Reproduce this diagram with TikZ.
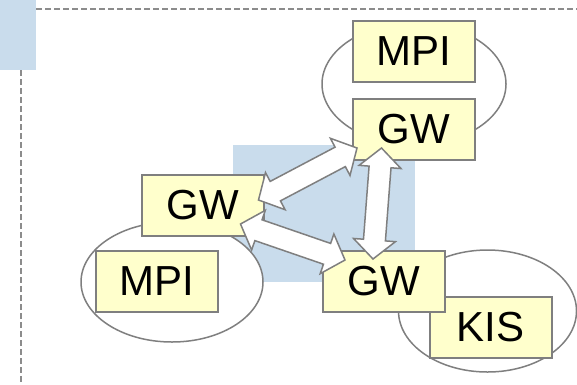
\documentclass[tikz,border=0pt]{standalone}
\usepackage{fontspec}
\setmainfont{Liberation Sans}
\usetikzlibrary{shapes.geometric,positioning,calc}

\definecolor{boxfill}{HTML}{FFFFCC}
\definecolor{edgegray}{HTML}{7F7F7F}
\definecolor{paneblue}{HTML}{C9DCEC}
\definecolor{dashgray}{HTML}{8C8C8C}

% double block arrow between two named points
\newcommand{\gwlink}[2]{%
  \filldraw[link] let \p1=($(#2)-(#1)$), \n1={atan2(\y1,\x1)} in
    (#1) -- ($(#1)+(\n1:19pt)+(\n1+90:21pt)$) -- ($(#1)+(\n1:19pt)+(\n1+90:11pt)$)
    -- ($(#2)+(\n1:-19pt)+(\n1+90:11pt)$) -- ($(#2)+(\n1:-19pt)+(\n1+90:21pt)$) -- (#2)
    -- ($(#2)+(\n1:-19pt)+(\n1-90:21pt)$) -- ($(#2)+(\n1:-19pt)+(\n1-90:11pt)$)
    -- ($(#1)+(\n1:19pt)+(\n1-90:11pt)$) -- ($(#1)+(\n1:19pt)+(\n1-90:21pt)$) -- cycle;}

\begin{document}
\begin{tikzpicture}
  [
    x=1pt, y=-1pt,
    sysbox/.style={draw=edgegray, fill=boxfill, line width=2pt, minimum width=122pt, minimum height=61pt, inner sep=0pt, font=\fontsize{42}{50}\selectfont},
    site/.style={draw=edgegray, fill=white, ellipse, line width=1.5pt, inner sep=0pt},
    pane/.style={fill=paneblue, draw=none},
    rule/.style={draw=dashgray, line width=1.5pt, dash pattern=on 6pt off 3pt},
    link/.style={draw=edgegray, fill=white, line width=1.5pt, line join=miter}
  ]
  \useasboundingbox (0,0) rectangle (577,384);

  % background panes and frame lines
  \fill[pane] (0,0) rectangle (36,70);
  \fill[pane] (233,145) rectangle (415,282);
  \draw[rule] (36,9) -- (577,9);
  \draw[rule] (21,70) -- (21,384);

  % sites
  \node (sitetop) [site, minimum width=184pt, minimum height=122pt] at (414,84) {};
  \node (siteleft) [site, minimum width=182pt, minimum height=120pt] at (172,282) {};
  \node (sitebot) [site, minimum width=178pt, minimum height=122pt] at (487.5,311) {};

  % systems
  \node (gwtop) [sysbox] at (414,129.5) {GW};
  \node (mpitop) [sysbox, above=15pt of gwtop] {MPI};
  \node (gwleft) [sysbox] at (202.5,205.5) {GW};
  \node (mpileft) [sysbox] at (157,281) {MPI};
  \node (kis) [sysbox] at (490.5,327) {KIS};
  \node (gwbot) [sysbox] at (384,281.5) {GW};

  % links between gateways
  \coordinate (a1) at ([shift={(5,-13)}]gwtop.south west);
  \coordinate (a2) at ([shift={(-6,-5.5)}]gwleft.east);
  \coordinate (b1) at ([shift={(-24,-13)}]gwleft.south east);
  \coordinate (b2) at ([shift={(23,10)}]gwbot.north west);
  \coordinate (c1) at ([shift={(-32.5,-13)}]gwtop.south);
  \coordinate (c2) at ([shift={(-11,9)}]gwbot.north);

  \gwlink{a1}{a2}
  \gwlink{b1}{b2}
  \gwlink{c1}{c2}
\end{tikzpicture}
\end{document}
